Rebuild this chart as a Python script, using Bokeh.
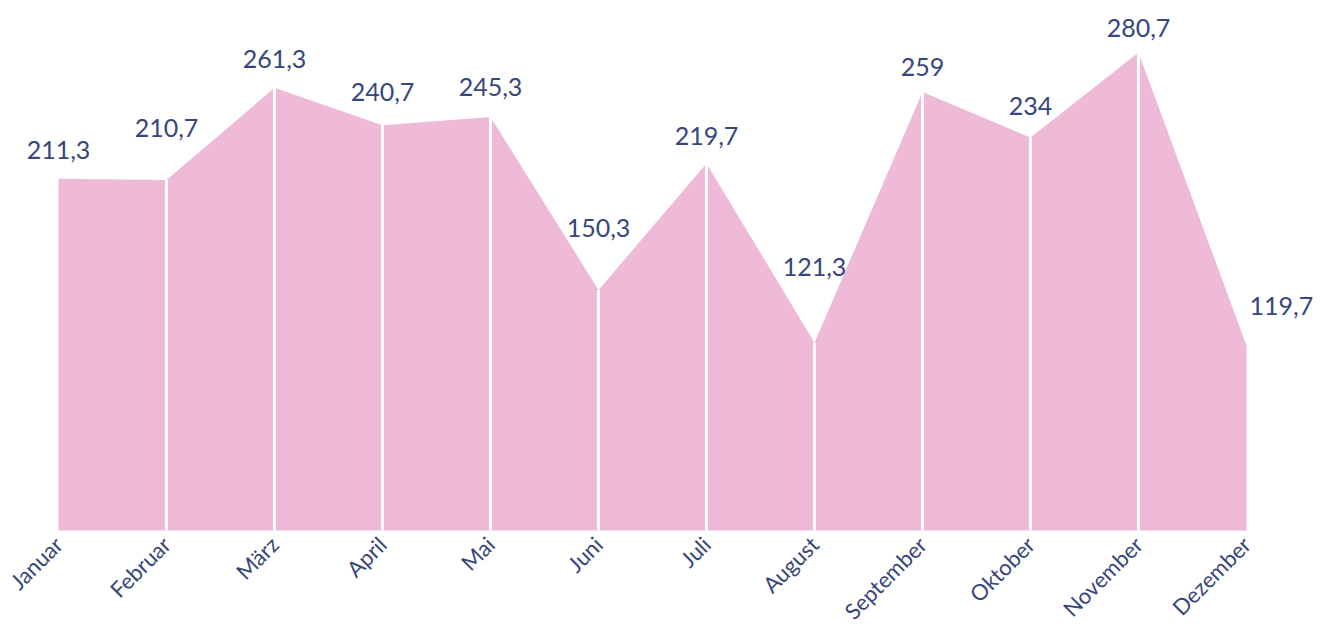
from bokeh.plotting import figure
from bokeh.models import Range1d, FixedTicker
from bokeh.core.properties import value
from bokeh.embed import file_html
from bokeh.resources import INLINE
import math

months = ["Januar", "Februar", "März", "April", "Mai", "Juni", "Juli",
          "August", "September", "Oktober", "November", "Dezember"]
values = [211.3, 210.7, 261.3, 240.7, 245.3, 150.3, 219.7, 121.3, 259, 234, 280.7, 119.7]
labels = [str(v).replace(".", ",") for v in values]

# label lift above each point, in screen pixels (layout only)
label_lift = [29, 52, 29, 33, 30, 62, 28, 76, 25, 32, 25]

FILL = "#EEBAD8"
TEXT = "#37467B"
FONT = "Lato"

xs = list(range(len(months)))

FW = 1314
p = figure(frame_width=FW, frame_height=530, output_backend="svg",
           toolbar_location=None, y_axis_location=None,
           x_range=Range1d(-58 / 108, 11 + (FW - 1246) / 108), y_range=Range1d(18.1, 309.3),
           min_border=0)
p.outline_line_color = None
p.xgrid.visible = False
p.ygrid.visible = False
p.background_fill_color = "white"

p.varea(x=xs, y1=[0] * len(xs), y2=values, fill_color=FILL)

inner = xs[1:-1]
p.segment(x0=inner, y0=[0] * len(inner), x1=inner, y1=[values[i] for i in inner],
          line_color="white", line_width=3)

for i in range(len(xs) - 1):
    p.text(x=[xs[i]], y=[values[i]], text=[labels[i]], text_align="center",
           text_baseline="middle", y_offset=-label_lift[i], text_color=TEXT,
           text_font=value(FONT), text_font_size="25px")
p.text(x=[xs[-1]], y=[values[-1]], text=[labels[-1]], text_align="left",
       text_baseline="middle", x_offset=3, y_offset=-40, text_color=TEXT,
       text_font=value(FONT), text_font_size="25px")

ax = p.xaxis[0]
ax.ticker = FixedTicker(ticks=xs)
ax.major_label_overrides = {i: m for i, m in enumerate(months)}
ax.major_label_orientation = math.pi / 4
ax.major_label_text_font = FONT
ax.major_label_text_font_size = "22px"
ax.major_label_text_color = TEXT
ax.major_label_standoff = 4
ax.axis_line_color = None
ax.major_tick_line_color = None
ax.minor_tick_line_color = None

open("out.html", "w").write(file_html(p, INLINE))
